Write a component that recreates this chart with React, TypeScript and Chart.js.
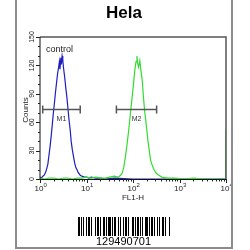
import React, { useEffect, useRef } from "react";
import { Chart, registerables } from "chart.js";

Chart.register(...registerables);

// x values are log10(FL1-H) (decades), y values are counts
const blueLogX = [0, 0.03, 0.06, 0.09, 0.12, 0.145, 0.17, 0.19, 0.216, 0.24, 0.26, 0.288, 0.31, 0.33, 0.361, 0.38, 0.4, 0.417, 0.43, 0.448, 0.46, 0.476, 0.49, 0.504, 0.53, 0.555, 0.577, 0.6, 0.625, 0.649, 0.67, 0.695, 0.72, 0.745, 0.77, 0.794, 0.82, 0.865, 0.9, 0.95, 1.0, 1.05, 1.1, 1.2, 1.3, 1.4, 1.6, 2.0, 2.5, 3.0, 3.5, 4.0];
const blueCounts = [2, 1, 3, 4, 7, 11, 16, 24, 34, 45, 55, 70, 80, 90, 104, 112, 118, 124, 116, 128, 121, 130, 126, 118, 108, 96, 87, 75, 62, 52, 40, 31, 24, 17, 12, 10, 7, 4, 3, 2, 2, 1, 2, 1, 1, 0, 1, 0, 0, 0, 0, 0];

const greenLogX = [0, 0.1, 0.2, 0.3, 0.4, 0.5, 0.6, 0.7, 0.8, 0.9, 1.0, 1.1, 1.2, 1.3, 1.4, 1.5, 1.6, 1.686, 1.73, 1.766, 1.8, 1.838, 1.87, 1.909, 1.945, 1.983, 2.01, 2.039, 2.065, 2.085, 2.1, 2.12, 2.147, 2.17, 2.199, 2.225, 2.255, 2.29, 2.32, 2.35, 2.378, 2.41, 2.45, 2.5, 2.558, 2.62, 2.74, 2.9, 3.1, 3.3, 3.5, 3.7, 3.9, 3.99, 4.0];
const greenCounts = [1, 0, 1, 1, 0, 1, 1, 0, 1, 1, 2, 1, 2, 1, 1, 2, 3, 2, 4, 6, 12, 24, 36, 52, 70, 87, 100, 115, 124, 130, 122, 118, 125, 115, 104, 86, 70, 55, 41, 30, 20, 15, 10, 6, 4, 2, 1, 1, 0, 1, 0, 0, 0, 0, 52];

const yTicks = [0, 30, 60, 90, 120, 150];
const xTickExps = [0, 1, 2, 3, 4];

const markerLabels = ["M1", "M2"];
const markerStart = [0.058, 1.643];
const markerEnd = [0.865, 2.508];
const markerLevel = [74, 74];

const titleText = "Hela";
const sampleLabel = "control";
const xAxisTitle = "FL1-H";
const yAxisTitle = "Counts";
const barcodeNumber = "129490701";
const barcodeWidths = [2, 1, 1, 1, 1, 2, 1, 1, 2, 1, 1, 3, 1, 1, 2, 1, 1, 2, 2, 1, 1, 1, 3, 1, 1, 1, 2, 2, 1, 1, 1, 2, 1, 1, 2, 1, 1, 3, 2, 1, 1, 1, 2, 1, 1, 1, 1, 2, 3, 1, 1, 1, 2, 1, 1, 2, 1, 1, 1, 2, 2, 1, 1, 3, 1];

const FONT = "'Liberation Sans', Arial, sans-serif";

const decor = {
  id: "decor",
  afterDatasetsDraw(chart: any) {
    const ctx = chart.ctx as CanvasRenderingContext2D;
    const { left, right, top, bottom } = chart.chartArea;
    const xs = chart.scales.x;
    const ys = chart.scales.y;
    ctx.save();

    // frame
    ctx.strokeStyle = "#555";
    ctx.lineWidth = 1.5;
    ctx.beginPath();
    ctx.moveTo(left, top);
    ctx.lineTo(right, top);
    ctx.lineTo(right, bottom);
    ctx.stroke();
    ctx.strokeStyle = "#111";
    ctx.lineWidth = 1;
    ctx.beginPath();
    ctx.moveTo(left, top);
    ctx.lineTo(left, bottom + 0.5);
    ctx.lineTo(right, bottom + 0.5);
    ctx.stroke();

    // y ticks
    ctx.strokeStyle = "#222";
    for (let v = yTicks[0]; v <= yTicks[yTicks.length - 1]; v += 10) {
      const py = Math.round(ys.getPixelForValue(v)) + 0.5;
      const major = yTicks.includes(v);
      ctx.beginPath();
      ctx.moveTo(left - (major ? 4 : 2), py);
      ctx.lineTo(left, py);
      ctx.stroke();
    }
    ctx.fillStyle = "#222";
    ctx.font = `7px ${FONT}`;
    ctx.textAlign = "center";
    ctx.textBaseline = "middle";
    for (const v of yTicks) {
      const py = ys.getPixelForValue(v);
      ctx.save();
      ctx.translate(32, py);
      ctx.rotate(-Math.PI / 2);
      ctx.fillText(String(v), 0, 0);
      ctx.restore();
    }
    ctx.font = `8px ${FONT}`;
    ctx.save();
    ctx.translate(25.5, (top + bottom) / 2 + 2);
    ctx.rotate(-Math.PI / 2);
    ctx.fillText(yAxisTitle, 0, 0);
    ctx.restore();

    // x ticks
    for (let i = 0; i < xTickExps.length; i++) {
      const e = xTickExps[i];
      const px = Math.round(xs.getPixelForValue(e)) + 0.5;
      ctx.beginPath();
      ctx.moveTo(px, bottom);
      ctx.lineTo(px, bottom + 4);
      ctx.stroke();
      if (i < xTickExps.length - 1) {
        for (let k = 2; k <= 9; k++) {
          const mx = Math.round(xs.getPixelForValue(e + Math.log10(k))) + 0.5;
          ctx.beginPath();
          ctx.moveTo(mx, bottom);
          ctx.lineTo(mx, bottom + 2.5);
          ctx.stroke();
        }
      }
      const cx = xs.getPixelForValue(e);
      ctx.font = `8px ${FONT}`;
      ctx.textAlign = "center";
      ctx.textBaseline = "alphabetic";
      ctx.fillText("10", cx - 1, bottom + 12);
      ctx.font = `6px ${FONT}`;
      ctx.textAlign = "left";
      ctx.fillText(String(e), cx + 3.5, bottom + 8);
    }
    ctx.font = `8px ${FONT}`;
    ctx.textAlign = "center";
    ctx.fillText(xAxisTitle, (left + right) / 2, bottom + 21);

    // markers
    ctx.strokeStyle = "#555";
    ctx.lineWidth = 1.5;
    ctx.fillStyle = "#333";
    for (let i = 0; i < markerLabels.length; i++) {
      const x1 = xs.getPixelForValue(markerStart[i]);
      const x2 = xs.getPixelForValue(markerEnd[i]);
      const py = Math.round(ys.getPixelForValue(markerLevel[i])) + 0.5;
      ctx.beginPath();
      ctx.moveTo(x1, py);
      ctx.lineTo(x2, py);
      ctx.moveTo(x1, py - 4);
      ctx.lineTo(x1, py + 4);
      ctx.moveTo(x2, py - 4);
      ctx.lineTo(x2, py + 4);
      ctx.stroke();
      ctx.font = `7px ${FONT}`;
      ctx.textAlign = "center";
      ctx.textBaseline = "middle";
      ctx.fillText(markerLabels[i], (x1 + x2) / 2, py + 10);
    }

    // sample label
    ctx.fillStyle = "#222";
    ctx.font = `9px ${FONT}`;
    ctx.textAlign = "left";
    ctx.textBaseline = "middle";
    ctx.fillText(sampleLabel, left + 6, top + 13);

    // title
    ctx.fillStyle = "#000";
    ctx.font = `bold 17px ${FONT}`;
    ctx.textAlign = "center";
    ctx.textBaseline = "alphabetic";
    ctx.fillText(titleText, 124, 18);

    // barcode
    const total = barcodeWidths.reduce((a, b) => a + b, 0);
    let bx = Math.round(123.5 - total / 2);
    ctx.fillStyle = "#000";
    for (let i = 0; i < barcodeWidths.length; i++) {
      if (i % 2 === 0) ctx.fillRect(bx, 217, barcodeWidths[i], 19);
      bx += barcodeWidths[i];
    }
    ctx.font = `11px ${FONT}`;
    ctx.textAlign = "center";
    ctx.fillText(barcodeNumber, 123.5, 245);

    ctx.restore();
  },
};

export default function App() {
  const ref = useRef<HTMLCanvasElement>(null);
  useEffect(() => {
    if (!ref.current) return;
    const chart = new Chart(ref.current, {
      type: "line",
      data: {
        datasets: [
          {
            data: greenLogX.map((x, i) => ({ x, y: greenCounts[i] })),
            borderColor: "rgb(50,220,50)",
            borderWidth: 1.2,
            pointRadius: 0,
            tension: 0,
          },
          {
            data: blueLogX.map((x, i) => ({ x, y: blueCounts[i] })),
            borderColor: "rgb(30,30,190)",
            borderWidth: 1.2,
            pointRadius: 0,
            tension: 0,
          },
        ],
      },
      options: {
        responsive: false,
        animation: false,
        devicePixelRatio: 1,
        layout: { padding: { left: 40, right: 24, top: 37, bottom: 71 } },
        plugins: { legend: { display: false }, tooltip: { enabled: false } },
        scales: {
          x: { type: "linear", min: 0, max: 4, display: false },
          y: { type: "linear", min: 0, max: 150, display: false },
        },
      },
      plugins: [decor],
    });
    return () => chart.destroy();
  }, []);
  return (
    <div style={{ position: "fixed", left: 0, top: 0, width: 250, height: 250, background: "#fff" }}>
      <canvas ref={ref} width={250} height={250} style={{ position: "absolute", left: 0, top: 0 }} />
      <div
        style={{
          position: "absolute",
          left: 15,
          top: -4,
          width: 218,
          height: 253,
          boxSizing: "border-box",
          border: "2px solid #8c8c8c",
          pointerEvents: "none",
        }}
      />
    </div>
  );
}
